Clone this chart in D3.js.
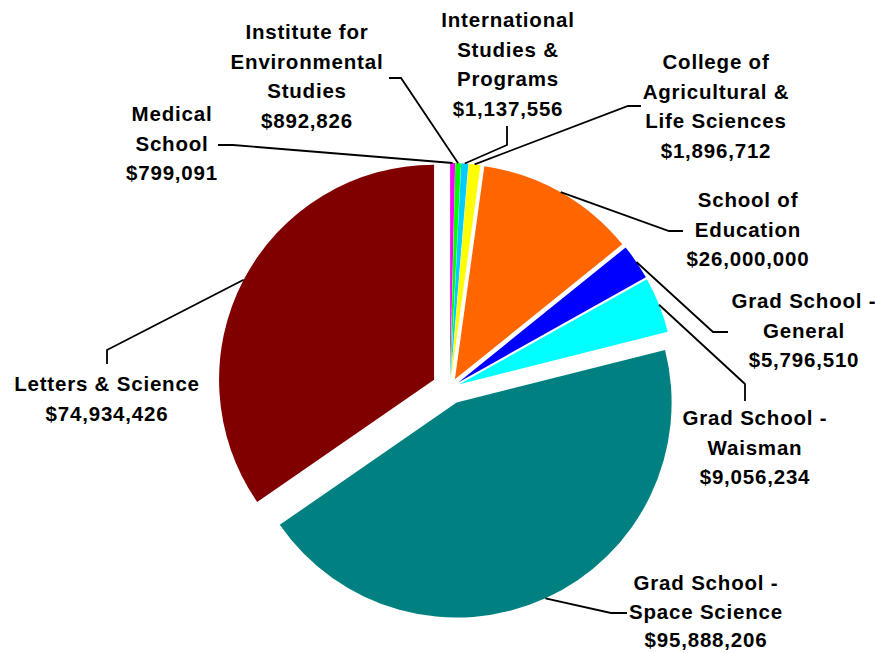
<!DOCTYPE html>
<html><head><meta charset="utf-8">
<script src="https://cdn.jsdelivr.net/npm/d3@7/dist/d3.min.js"></script>
<style>body{margin:0;background:#fff}svg{display:block}</style>
</head><body>
<svg id="chart" width="875" height="653"></svg>
<script>
// ---- data ----
const categories = ["Medical School", "Institute for Environmental Studies", "International Studies & Programs",
  "College of Agricultural & Life Sciences", "School of Education", "Grad School - General",
  "Grad School - Waisman", "Grad School - Space Science", "Letters & Science"];
const values = [799091, 892826, 1137556, 1896712, 26000000, 5796510, 9056234, 95888206, 74934426];
const labelLines = [
  ["Medical", "School"],
  ["Institute for", "Environmental", "Studies"],
  ["International", "Studies &", "Programs"],
  ["College of", "Agricultural &", "Life Sciences"],
  ["School of", "Education"],
  ["Grad School -", "General"],
  ["Grad School -", "Waisman"],
  ["Grad School -", "Space Science"],
  ["Letters & Science"]
];
const colors = ["#FF00FF", "#00FF00", "#00CCFF", "#FFFF00", "#FF6600", "#0000FF", "#00FFFF", "#008080", "#800000"];

// ---- layout (styling, not data) ----
const cx = 450, cy = 388, R = 215;
const explode = [10, 10, 10, 10, 10, 10, 10, 16, 18];
// label anchor: centre x, first baseline y
const labelPos = [
  [172, 121], [307, 39], [508, 27], [716, 69], [748, 207],
  [804, 308], [755, 425], [706, 590], [107, 391]
];
// leader line: points after the slice edge point (elbow, end)
const leaderPts = [
  [[233, 145], [218, 145]],
  [[401, 78], [389, 78]],
  [[507, 145], [507, 126]],
  [[628, 106], [641, 106]],
  [[669, 231], [683, 231]],
  [[713, 332], [728, 332]],
  [[745, 384], [745, 401]],
  [[611, 613], [627, 613]],
  [[107, 350], [107, 364]]
];
const lineGaps = [29.5, 29.5, 29.5, 29.5, 29.5, 29.5, 29.5, 28.7, 29.5];

const fmt = d3.format("$,");
const svg = d3.select("#chart");
const pie = d3.pie().sort(null).value(d => d)(values);
const arc = d3.arc().innerRadius(0).outerRadius(R);

const g = svg.append("g");
g.selectAll("path").data(pie).join("path")
  .attr("d", arc)
  .attr("fill", (d, i) => colors[i])
  .attr("transform", (d, i) => {
    const m = (d.startAngle + d.endAngle) / 2;
    return `translate(${cx + explode[i] * Math.sin(m)},${cy - explode[i] * Math.cos(m)})`;
  });

// leader lines
const line = d3.line();
svg.append("g").selectAll("path").data(pie).join("path")
  .attr("d", (d, i) => {
    const m = (d.startAngle + d.endAngle) / 2;
    const rr = R + explode[i];
    const p0 = [cx + rr * Math.sin(m), cy - rr * Math.cos(m)];
    return line([p0, ...leaderPts[i]]);
  })
  .attr("fill", "none").attr("stroke", "#000").attr("stroke-width", 1.8);

// labels
const lab = svg.append("g")
  .attr("font-family", "'Liberation Sans', Arial, sans-serif")
  .attr("font-weight", "bold").attr("font-size", "20.5px")
  .attr("letter-spacing", "0.8px")
  .attr("text-anchor", "middle").attr("fill", "#000");
pie.forEach((d, i) => {
  const lines = labelLines[i].concat([fmt(values[i])]);
  const t = lab.append("text");
  lines.forEach((s, k) => {
    t.append("tspan").attr("x", labelPos[i][0]).attr("y", labelPos[i][1] + k * lineGaps[i]).text(s);
  });
});
</script>
</body></html>
